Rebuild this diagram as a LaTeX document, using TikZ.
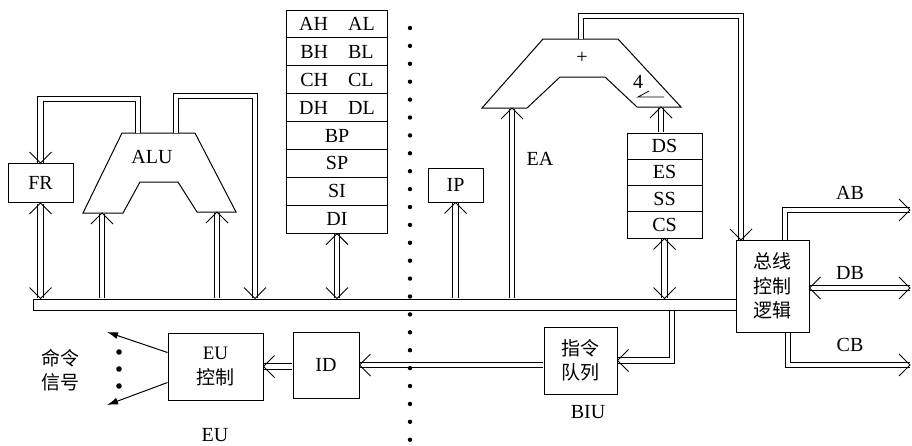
\documentclass[tikz,border=0pt]{standalone}
\usepackage{fontspec}
\setmainfont{Liberation Serif}
\newfontfamily\cjk{Noto Sans CJK SC}
\usetikzlibrary{arrows.meta,calc,positioning}

\begin{document}
\begin{tikzpicture}[x=1pt,y=-1pt,line width=1pt,
  box/.style={draw,rectangle,inner sep=0pt,font=\fontsize{20}{22}\selectfont},
  zh/.style={font=\cjk\fontsize{19}{24.5}\selectfont,align=center},
  lbl/.style={font=\fontsize{20}{22}\selectfont},
  dbl/.style={double,double distance=4.5pt,line width=1pt,shorten <=0.5pt,shorten >=0.5pt},
  vhead/.pic={\draw[line width=1pt] (-11pt,-11pt) -- (0,0) -- (11pt,-11pt);}]
  \useasboundingbox (0,0) rectangle (912,445);
  % boxes
  \node[box,minimum width=65,minimum height=39] (fr) at (40.5,183) {FR};
  \foreach \t [count=\k] in {AH\hspace{20pt}AL,BH\hspace{20pt}BL,CH\hspace{20pt}CL,DH\hspace{20pt}DL,BP,SP,SI,DI}
    \node[box,minimum width=101,minimum height=27.9] (r\k) at (337,{10+27.9*(\k-0.5)}) {\t};
  \node[box,minimum width=55,minimum height=34] (ip) at (455.5,185) {IP};
  \foreach \t [count=\k] in {DS,ES,SS,CS}
    \node[box,minimum width=75,minimum height=26.25] (s\k) at (664.5,{133+26.25*(\k-0.5)}) {\t};
  \node[box,zh,minimum width=73,minimum height=92] (bcl) at (772.5,286) {总线\\控制\\逻辑};
  \node[box,zh,minimum width=73,minimum height=67] (queue) at (580.5,360.5) {指令\\队列};
  \node[box,minimum width=66,minimum height=66] (id) at (326,365) {ID};
  \node[box,zh,minimum width=95,minimum height=67] (euc) at (215.5,366.5) {{\rmfamily EU}\\控制};
  \node[draw,inner sep=0pt,minimum width=703,minimum height=11] (ibus) at (384.5,304.5) {};
  % ALU and address adder
  \draw (122,133) -- (195,133) -- (236,212) -- (197,212) -- (178,182) -- (140,182) -- (123,213) -- (83,213) -- cycle;
  \node[lbl] (alul) at (152,157) {ALU};
  \draw (543,39) -- (618,39) -- (681,107) -- (637,107) -- (605,77) -- (560,77) -- (527,108) -- (482,108) -- cycle;
  \node[lbl] (plus) at (582,58) {+};
  \node[lbl] (four) at (638,82) {4};
  \draw[line width=0.8pt] (664,97) -- (638,97) -- (649,91);
  \node[lbl] (eal) at (540,159) {EA};
  % free ends
  \coordinate (aluo1) at (138,133); \coordinate (aluo2) at (176,133);
  \coordinate (alui1) at (102,213); \coordinate (alui2) at (217,212);
  \coordinate (rb) at (255,96);
  \coordinate (ea) at (512,108); \coordinate (addin) at (661,107);
  \coordinate (addo) at (581,39); \coordinate (bcin) at (741,240);
  \coordinate (abo) at (785,240); \coordinate (abend) at (910,210);
  \coordinate (dbend) at (910,288);
  \coordinate (cbo) at (788,332); \coordinate (cbend) at (910,365);
  \coordinate (bq) at (672,310);
  \coordinate (c1) at (107,332); \coordinate (c2) at (107,405);
  % EU side
  \draw[dbl] (fr.south) -- (fr.south |- ibus.north);
  \draw[dbl] (aluo1) -- ++(0,-34) -| (fr.north);
  \draw[dbl] (aluo2) -- (aluo2 |- rb) -- (rb) -- (rb |- ibus.north);
  \draw[dbl] (alui1 |- ibus.north) -- (alui1);
  \draw[dbl] (alui2 |- ibus.north) -- (alui2);
  \draw[dbl] (r8.south) -- (r8.south |- ibus.north);
  \draw[dbl] (euc.east -| id.west) -- (euc.east);
  \pic at (fr.south) {vhead}; \pic[rotate=180] at (fr.south |- ibus.north) {vhead};
  \pic[rotate=180] at (fr.north) {vhead};
  \pic[rotate=180] at (rb |- ibus.north) {vhead};
  \pic at (alui1) {vhead}; \pic at (alui2) {vhead};
  \pic at (r8.south) {vhead}; \pic[rotate=180] at (r8.south |- ibus.north) {vhead};
  \pic[rotate=90] at (euc.east) {vhead};
  \draw[-{Latex[length=11pt,width=7pt]}] ($(euc.north west)+(0,20)$) -- (c1);
  \draw[-{Latex[length=11pt,width=7pt]}] ($(euc.south west)+(0,-18)$) -- (c2);
  \foreach \y in {352,369,386} \fill (119,\y) circle (2.8);
  \node[zh] (cmd) at (60,370) {命令\\信号};
  \node[lbl] (eulab) at (215,435) {EU};
  % BIU side
  \draw[dbl] (ip.south |- ibus.north) -- (ip.south);
  \draw[dbl] (ea |- ibus.north) -- (ea);
  \draw[dbl] (s1.north -| addin) -- (addin);
  \draw[dbl] (s4.south) -- (s4.south |- ibus.north);
  \draw[dbl] (addo) -- ++(0,-23) -| (bcin);
  \draw[dbl] (abo) |- (abend);
  \draw[dbl] (dbend -| bcl.east) -- (dbend);
  \draw[dbl] (cbo) |- (cbend);
  \draw[dbl] (bq) |- (queue.east);
  \draw[dbl] (id.east -| queue.west) -- (id.east);
  \pic at (ip.south) {vhead}; \pic at (ea) {vhead}; \pic at (addin) {vhead};
  \pic at (s4.south) {vhead}; \pic[rotate=180] at (s4.south |- ibus.north) {vhead};
  \pic[rotate=180] at (bcin) {vhead};
  \pic[rotate=-90] at (abend) {vhead};
  \pic[rotate=-90] at (dbend) {vhead}; \pic[rotate=90] at (dbend -| bcl.east) {vhead};
  \pic[rotate=-90] at (cbend) {vhead};
  \pic[rotate=90] at (queue.east) {vhead};
  \pic[rotate=90] at (id.east) {vhead};
  \node[lbl] (abl) at (850,193) {AB};
  \node[lbl] (dbl) at (850,273) {DB};
  \node[lbl] (cbl) at (850,345) {CB};
  \node[lbl] (biul) at (588,412) {BIU};
  % EU / BIU divider
  \foreach \k in {0,...,23} \fill (410,{28+17.9*\k}) circle (2.2);
\end{tikzpicture}
\end{document}
